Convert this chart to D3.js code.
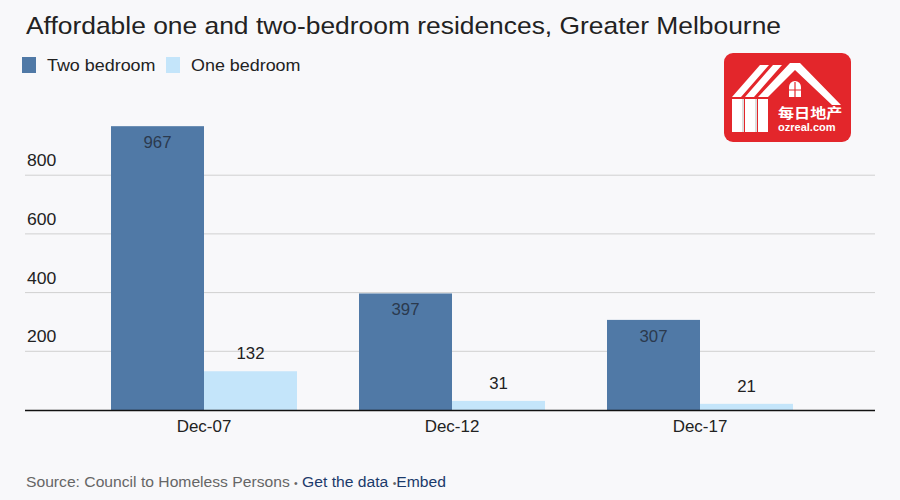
<!DOCTYPE html>
<html><head><meta charset="utf-8">
<script src="https://cdn.jsdelivr.net/npm/d3@7"></script>
<style>
html,body{margin:0;padding:0;background:#f8f8fa;}
svg{display:block;font-family:"Liberation Sans",Arial,sans-serif;}
</style></head><body>
<svg id="c" width="900" height="500"></svg>
<script>
const categories = ["Dec-07", "Dec-12", "Dec-17"];
const seriesNames = ["Two bedroom", "One bedroom"];
const twoBedroom = [967, 397, 307];
const oneBedroom = [132, 31, 21];
const yTicks = [200, 400, 600, 800];
const colors = ["#5079a6", "#c4e5fa"];

const svg = d3.select("#c");
svg.append("rect").attr("width", 900).attr("height", 500).attr("fill", "#f8f8fa");

// text helper with slight horizontal stretch (reference is widened)
function txt(parent, x, y, size, sx, fill, s, anchor) {
  return parent.append("text").attr("transform", `translate(${x},${y}) scale(${sx},1)`)
    .attr("font-size", size).attr("fill", fill).attr("text-anchor", anchor || "start").text(s);
}

const x0 = d3.scaleBand().domain(categories).range([80, 824]).paddingInner(0.25).paddingOuter(0.125);
const x1 = d3.scaleBand().domain(seriesNames).range([0, x0.bandwidth()]);
const y = d3.scaleLinear().domain([0, 1000]).range([410, 116.5]);

// title
txt(svg, 26, 34, 24, 1.1, "#222", "Affordable one and two-bedroom residences, Greater Melbourne");

// legend
seriesNames.forEach((s, i) => {
  const lx = [22, 166][i];
  svg.append("rect").attr("x", lx).attr("y", 57).attr("width", 14).attr("height", 16).attr("fill", colors[i]);
  txt(svg, lx + 25, 71, 16, 1.12, "#222", s);
});

// grid
yTicks.forEach(t => {
  svg.append("line").attr("x1", 25).attr("x2", 875).attr("y1", y(t)).attr("y2", y(t))
    .attr("stroke", "#d0d0d0").attr("stroke-width", 1);
  txt(svg, 27, y(t) - 9, 16, 1.1, "#222", t);
});

// bars
const data = categories.map((c, i) => ({c, vals: [twoBedroom[i], oneBedroom[i]]}));
data.forEach(d => {
  d.vals.forEach((v, j) => {
    const bx = x0(d.c) + x1(seriesNames[j]);
    svg.append("rect").attr("x", bx).attr("y", y(v)).attr("width", x1.bandwidth()).attr("height", y(0) - y(v))
      .attr("fill", colors[j]);
    const inside = j === 0;
    txt(svg, bx + x1.bandwidth() / 2, inside ? y(v) + 22 : y(v) - 12, 16, 1.05,
      inside ? "#2b3a4e" : "#222", v, "middle");
  });
});

// baseline
svg.append("line").attr("x1", 25).attr("x2", 875).attr("y1", y(0) + 0.5).attr("y2", y(0) + 0.5)
  .attr("stroke", "#111").attr("stroke-width", 1.5);

// x labels
categories.forEach(c => {
  txt(svg, x0(c) + x0.bandwidth() / 2, 432, 16, 1.06, "#222", c, "middle");
});

// footer
const ft = svg.append("text").attr("transform", "translate(26,487) scale(1.045,1)").attr("font-size", 15);
ft.append("tspan").attr("fill", "#666").text("Source: Council to Homeless Persons ");
ft.append("tspan").attr("fill", "#666").attr("font-size", 10).text("•");
ft.append("tspan").attr("fill", "#1b3a6b").text(" Get the data ");
ft.append("tspan").attr("fill", "#666").attr("font-size", 10).text("•");
ft.append("tspan").attr("fill", "#1b3a6b").text("Embed");

// logo
const lo = svg.append("g").attr("transform", "translate(724,53)");
lo.append("rect").attr("width", 127).attr("height", 89).attr("rx", 9).attr("fill", "#e3262b");
// roof stripes
lo.append("path").attr("d", "M8,44 L36,12 L45,12 L17,44 Z M21,44 L49,12 L58,12 L30,44 Z").attr("fill", "#fff");
lo.append("path").attr("d", "M34,44 L66,10 L76,10 L117,52 L108,52 L71,17 L44,44 Z").attr("fill", "#fff");
// pillars
lo.append("rect").attr("x", 8).attr("y", 46).attr("width", 10).attr("height", 33).attr("fill", "#fff");
lo.append("rect").attr("x", 21).attr("y", 46).attr("width", 10).attr("height", 33).attr("fill", "#fff");
lo.append("rect").attr("x", 34).attr("y", 46).attr("width", 10).attr("height", 33).attr("fill", "#fff");
lo.append("rect").attr("x", 18).attr("y", 46).attr("width", 2).attr("height", 33).attr("fill", "#ddd");
lo.append("rect").attr("x", 31).attr("y", 46).attr("width", 2).attr("height", 33).attr("fill", "#ddd");
// window
lo.append("path").attr("d", "M65,44 L65,34 A6,6 0 0 1 77,34 L77,44 Z").attr("fill", "#fff");
lo.append("path").attr("d", "M71,29 L71,44 M65,37 L77,37").attr("stroke", "#e3262b").attr("stroke-width", 1.2);
lo.append("text").attr("transform", "translate(54,65) scale(1.15,1)").attr("font-size", 14).attr("fill", "#fff")
  .attr("font-weight", "bold").attr("font-family", "'Noto Sans CJK SC',sans-serif").text("每日地产");
lo.append("text").attr("transform", "translate(54,78) scale(1.05,1)").attr("font-size", 10.5).attr("fill", "#fff")
  .attr("font-weight", "bold").text("ozreal.com");
</script></body></html>
